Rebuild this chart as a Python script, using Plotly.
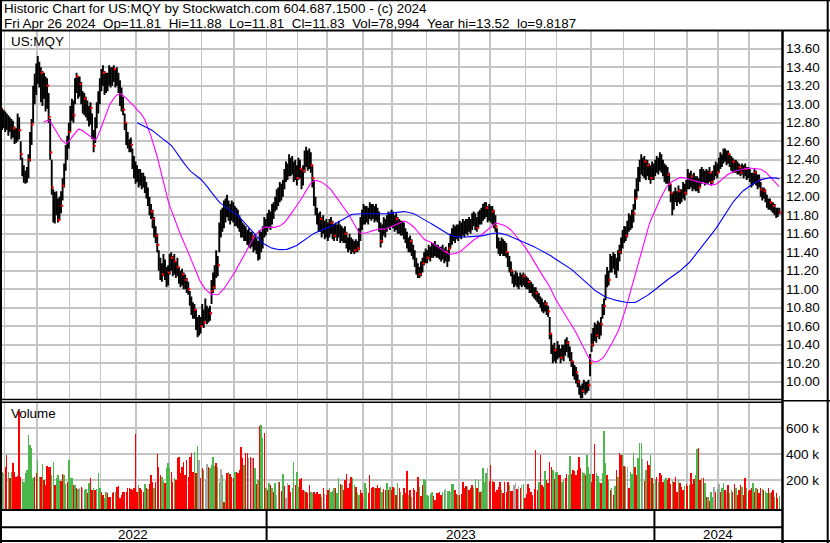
import pandas as pd
import plotly.graph_objects as go

W, H = 830, 543

# ---------------- text ----------------
title_line = "Historic Chart for US:MQY by Stockwatch.com 604.687.1500 - (c) 2024"
quote_fields = ["Fri Apr 26 2024", "Op=11.81", "Hi=11.88", "Lo=11.81", "Cl=11.83",
                "Vol=78,994", "Year hi=13.52", "lo=9.8187"]
symbol = "US:MQY"
volume_title = "Volume"

# ---------------- trading calendar ----------------
start_date = "2022-04-26"
end_date = "2024-04-26"
market_holidays = ["2022-05-30", "2022-06-20", "2022-07-04", "2022-09-05", "2022-11-24", "2022-12-26",
                   "2023-01-02", "2023-01-16", "2023-02-20", "2023-04-07", "2023-05-29", "2023-06-19",
                   "2023-07-04", "2023-09-04", "2023-11-23", "2023-12-25",
                   "2024-01-01", "2024-01-15", "2024-02-19", "2024-03-29"]

# ---------------- daily prices ----------------
close = [
12.85,12.95,12.80,12.88,12.78,12.84,12.74,12.80,12.68,12.74,
12.62,12.66,12.78,12.72,12.46,12.30,12.22,12.18,12.26,12.40,
12.62,12.78,13.10,13.26,13.35,13.44,13.30,13.34,13.18,13.24,
13.12,13.20,12.86,12.48,12.10,11.80,11.98,11.92,11.75,11.86,
11.90,12.12,12.30,12.46,12.58,12.70,12.90,13.00,12.88,13.20,
13.30,13.16,13.22,13.10,12.98,13.06,12.94,12.90,12.84,12.96,
12.70,12.55,12.78,12.96,13.05,13.22,13.30,13.34,13.16,13.28,
13.22,13.36,13.26,13.32,13.38,13.24,13.30,13.20,13.12,13.04,
12.94,12.80,12.66,12.58,12.55,12.56,12.40,12.34,12.24,12.28,
12.18,12.22,12.14,12.18,12.12,12.06,11.96,11.86,11.84,11.76,
11.62,11.58,11.48,11.30,11.22,11.16,11.28,11.20,11.06,11.18,
11.30,11.34,11.24,11.30,11.20,11.24,11.14,11.08,11.16,11.06,
11.10,11.02,11.00,10.88,10.80,10.74,10.78,10.62,10.56,10.66,
10.60,10.72,10.64,10.76,10.70,10.72,10.74,10.98,11.02,11.18,
11.30,11.26,11.62,11.78,11.70,11.88,11.82,11.94,11.86,11.78,
11.90,11.84,11.76,11.82,11.74,11.70,11.66,11.64,11.60,11.62,
11.54,11.58,11.50,11.56,11.48,11.52,11.46,11.40,11.58,11.50,
11.62,11.70,11.64,11.74,11.80,11.72,11.84,11.88,11.92,12.02,
11.96,12.08,12.04,12.12,12.22,12.30,12.26,12.38,12.30,12.34,
12.24,12.28,12.20,12.36,12.30,12.14,12.28,12.40,12.46,12.36,
12.44,12.34,12.20,11.96,11.86,11.78,11.70,11.76,11.64,11.70,
11.62,11.68,11.60,11.66,11.72,11.62,11.58,11.66,11.60,11.64,
11.58,11.62,11.56,11.60,11.50,11.46,11.52,11.44,11.48,11.42,
11.46,11.44,11.56,11.70,11.78,11.86,11.76,11.84,11.80,11.88,
11.82,11.86,11.80,11.84,11.78,11.70,11.52,11.62,11.70,11.66,
11.74,11.78,11.72,11.80,11.74,11.70,11.76,11.66,11.70,11.64,
11.68,11.62,11.56,11.50,11.46,11.52,11.42,11.38,11.30,11.22,
11.18,11.16,11.24,11.28,11.32,11.38,11.34,11.42,11.38,11.44,
11.40,11.44,11.38,11.42,11.36,11.40,11.38,11.34,11.40,11.36,
11.44,11.52,11.58,11.62,11.56,11.64,11.60,11.66,11.62,11.68,
11.64,11.70,11.66,11.72,11.68,11.74,11.78,11.72,11.66,11.76,
11.80,11.78,11.86,11.82,11.88,11.78,11.86,11.80,11.84,11.74,
11.68,11.50,11.46,11.42,11.50,11.44,11.46,11.40,11.32,11.26,
11.20,11.12,11.08,11.14,11.10,11.06,11.12,11.08,11.14,11.10,
11.06,11.08,11.00,11.04,10.98,10.94,10.96,10.92,10.88,10.86,
10.82,10.80,10.84,10.78,10.76,10.52,10.36,10.26,10.34,10.28,
10.36,10.32,10.26,10.34,10.30,10.38,10.42,10.34,10.28,10.22,
10.14,10.08,10.10,10.00,9.92,9.86,9.90,9.96,9.92,9.94,
9.96,10.20,10.40,10.48,10.56,10.50,10.58,10.54,10.62,10.76,
10.82,11.06,11.14,11.10,11.30,11.26,11.34,11.28,11.22,11.36,
11.40,11.48,11.56,11.62,11.58,11.66,11.74,11.70,11.78,11.82,
11.98,12.10,12.24,12.30,12.36,12.32,12.38,12.26,12.34,12.30,
12.20,12.30,12.26,12.34,12.38,12.32,12.40,12.36,12.30,12.24,
12.20,12.24,12.14,12.04,11.90,11.98,12.04,11.96,12.06,11.98,
12.02,12.10,12.04,12.12,12.20,12.16,12.22,12.14,12.18,12.12,
12.16,12.10,12.20,12.26,12.22,12.18,12.24,12.20,12.26,12.16,
12.22,12.28,12.32,12.26,12.36,12.42,12.38,12.46,12.44,12.40,
12.46,12.38,12.34,12.38,12.30,12.36,12.28,12.32,12.26,12.30,
12.26,12.30,12.24,12.28,12.22,12.16,12.20,12.26,12.18,12.14,
12.18,12.08,12.02,12.06,11.98,11.94,11.90,11.94,11.88,11.90,
11.86,11.80,11.84,11.83]

high = [
12.98,13.02,12.96,12.94,12.92,12.90,12.88,12.86,12.84,12.82,
12.76,12.74,12.90,12.86,12.60,12.42,12.34,12.28,12.32,12.46,
12.70,12.84,13.20,13.33,13.44,13.52,13.46,13.40,13.36,13.34,
13.30,13.28,13.12,12.84,12.40,12.08,12.05,12.06,11.98,12.00,
12.06,12.20,12.36,12.56,12.66,12.80,12.98,13.06,13.04,13.28,
13.34,13.30,13.30,13.24,13.14,13.12,13.08,13.04,12.98,13.02,
12.90,12.72,12.86,13.02,13.14,13.28,13.38,13.42,13.36,13.34,
13.34,13.42,13.40,13.40,13.42,13.38,13.40,13.34,13.26,13.18,
13.08,12.90,12.80,12.70,12.62,12.64,12.52,12.44,12.38,12.34,
12.30,12.30,12.26,12.26,12.22,12.16,12.10,12.00,11.92,11.86,
11.78,11.68,11.60,11.42,11.34,11.28,11.38,11.32,11.24,11.26,
11.38,11.40,11.36,11.38,11.30,11.34,11.24,11.20,11.22,11.18,
11.16,11.12,11.08,10.98,10.92,10.86,10.84,10.78,10.70,10.72,
10.70,10.84,10.78,10.90,10.82,10.80,10.82,11.10,11.18,11.26,
11.42,11.36,11.72,11.86,11.88,11.96,11.98,12.02,11.96,11.92,
11.96,11.94,11.90,11.88,11.86,11.80,11.76,11.72,11.70,11.68,
11.64,11.66,11.62,11.62,11.58,11.60,11.56,11.52,11.64,11.62,
11.68,11.78,11.76,11.82,11.86,11.84,11.92,11.94,12.00,12.08,
12.10,12.16,12.14,12.18,12.30,12.38,12.36,12.46,12.42,12.44,
12.38,12.40,12.34,12.42,12.40,12.30,12.34,12.50,12.54,12.50,
12.52,12.48,12.34,12.18,12.00,11.88,11.82,11.84,11.78,11.80,
11.74,11.76,11.72,11.76,11.78,11.74,11.70,11.72,11.70,11.74,
11.70,11.68,11.66,11.68,11.62,11.56,11.60,11.56,11.54,11.52,
11.54,11.52,11.66,11.78,11.86,11.92,11.90,11.90,11.88,11.94,
11.92,11.92,11.90,11.92,11.88,11.84,11.72,11.70,11.78,11.76,
11.80,11.84,11.82,11.86,11.84,11.80,11.82,11.78,11.76,11.74,
11.74,11.72,11.66,11.62,11.56,11.58,11.54,11.48,11.42,11.34,
11.28,11.24,11.30,11.34,11.40,11.44,11.42,11.48,11.46,11.50,
11.50,11.52,11.48,11.48,11.46,11.46,11.48,11.44,11.46,11.42,
11.50,11.60,11.66,11.70,11.68,11.70,11.70,11.74,11.72,11.76,
11.74,11.76,11.76,11.78,11.76,11.82,11.84,11.82,11.78,11.84,
11.86,11.88,11.92,11.94,11.94,11.90,11.92,11.90,11.90,11.86,
11.80,11.66,11.56,11.52,11.56,11.54,11.52,11.50,11.40,11.36,
11.30,11.20,11.16,11.20,11.18,11.14,11.18,11.16,11.18,11.16,
11.14,11.12,11.10,11.08,11.06,11.02,11.02,10.98,10.96,10.92,
10.90,10.86,10.88,10.86,10.82,10.70,10.52,10.40,10.42,10.36,
10.44,10.40,10.36,10.40,10.40,10.46,10.48,10.44,10.38,10.32,
10.22,10.18,10.16,10.08,10.02,9.96,9.98,10.02,10.00,10.00,
10.02,10.30,10.52,10.58,10.64,10.62,10.66,10.64,10.70,10.84,
10.90,11.16,11.24,11.20,11.38,11.36,11.40,11.38,11.34,11.42,
11.48,11.56,11.64,11.68,11.68,11.74,11.82,11.80,11.86,11.92,
12.08,12.20,12.32,12.40,12.46,12.42,12.44,12.40,12.40,12.36,
12.34,12.38,12.36,12.40,12.44,12.42,12.48,12.46,12.40,12.36,
12.34,12.32,12.26,12.14,12.04,12.06,12.10,12.06,12.12,12.08,
12.08,12.16,12.14,12.18,12.30,12.26,12.28,12.24,12.26,12.22,
12.22,12.20,12.30,12.32,12.30,12.28,12.30,12.28,12.32,12.26,
12.28,12.34,12.38,12.36,12.42,12.48,12.46,12.52,12.52,12.50,
12.50,12.46,12.44,12.42,12.40,12.40,12.38,12.36,12.34,12.36,
12.34,12.36,12.32,12.32,12.30,12.26,12.26,12.30,12.28,12.24,
12.24,12.16,12.10,12.10,12.08,12.02,11.98,11.98,11.94,11.94,
11.92,11.88,11.88,11.88]

low = [
12.70,12.78,12.72,12.74,12.70,12.72,12.66,12.70,12.62,12.64,
12.57,12.58,12.60,12.62,12.40,12.22,12.15,12.14,12.15,12.20,
12.38,12.56,12.80,13.00,13.10,13.22,13.18,13.02,12.98,13.06,
12.92,12.95,12.80,12.40,12.02,11.72,11.71,11.80,11.72,11.74,
11.82,11.96,12.10,12.28,12.40,12.52,12.70,12.82,12.80,13.00,
13.12,13.06,13.08,13.00,12.90,12.88,12.86,12.82,12.76,12.78,
12.62,12.48,12.58,12.74,12.90,13.00,13.14,13.20,13.10,13.12,
13.14,13.20,13.18,13.20,13.24,13.18,13.20,13.12,12.98,12.92,
12.88,12.72,12.56,12.52,12.48,12.48,12.30,12.20,12.14,12.16,
12.10,12.12,12.08,12.10,12.04,11.98,11.90,11.80,11.76,11.66,
11.56,11.50,11.40,11.20,11.10,11.08,11.14,11.10,11.02,11.04,
11.16,11.20,11.14,11.16,11.12,11.14,11.06,11.02,11.04,11.00,
11.00,10.96,10.94,10.82,10.72,10.68,10.68,10.56,10.48,10.50,
10.52,10.60,10.58,10.66,10.62,10.64,10.66,10.84,10.96,11.00,
11.12,11.14,11.40,11.56,11.62,11.66,11.72,11.78,11.74,11.70,
11.74,11.72,11.68,11.68,11.66,11.62,11.56,11.56,11.52,11.52,
11.48,11.46,11.44,11.46,11.40,11.42,11.38,11.31,11.32,11.40,
11.44,11.56,11.58,11.62,11.66,11.64,11.70,11.76,11.84,11.86,
11.90,11.94,11.96,12.00,12.08,12.16,12.18,12.22,12.22,12.24,
12.16,12.18,12.12,12.18,12.20,12.08,12.12,12.26,12.32,12.28,
12.30,12.26,12.10,11.90,11.80,11.70,11.62,11.62,11.56,11.60,
11.54,11.56,11.52,11.56,11.60,11.54,11.52,11.56,11.52,11.56,
11.50,11.52,11.50,11.50,11.44,11.40,11.42,11.38,11.40,11.38,
11.40,11.40,11.42,11.52,11.64,11.70,11.70,11.72,11.70,11.76,
11.74,11.76,11.72,11.74,11.72,11.62,11.45,11.50,11.58,11.56,
11.62,11.66,11.64,11.68,11.66,11.62,11.64,11.60,11.60,11.58,
11.58,11.54,11.50,11.44,11.40,11.40,11.36,11.32,11.24,11.16,
11.12,11.12,11.14,11.18,11.26,11.28,11.28,11.32,11.30,11.34,
11.34,11.36,11.34,11.34,11.32,11.30,11.32,11.28,11.30,11.24,
11.30,11.44,11.48,11.52,11.50,11.54,11.52,11.56,11.54,11.58,
11.56,11.60,11.58,11.62,11.60,11.64,11.68,11.64,11.62,11.66,
11.70,11.70,11.74,11.76,11.78,11.72,11.74,11.72,11.70,11.66,
11.62,11.44,11.38,11.36,11.38,11.36,11.36,11.34,11.24,11.18,
11.14,11.06,11.02,11.04,11.02,11.00,11.04,11.02,11.04,11.02,
11.00,11.00,10.96,10.96,10.92,10.90,10.88,10.86,10.84,10.80,
10.76,10.74,10.76,10.72,10.70,10.46,10.30,10.20,10.22,10.20,
10.24,10.26,10.20,10.24,10.22,10.28,10.32,10.26,10.22,10.16,
10.06,10.02,9.98,9.94,9.86,9.82,9.82,9.88,9.86,9.88,
9.90,10.06,10.32,10.38,10.44,10.42,10.48,10.46,10.50,10.68,
10.72,10.88,11.02,11.04,11.18,11.18,11.22,11.16,11.12,11.20,
11.30,11.38,11.44,11.50,11.52,11.56,11.62,11.64,11.66,11.72,
11.86,11.98,12.06,12.16,12.24,12.22,12.20,12.18,12.22,12.18,
12.14,12.18,12.18,12.22,12.26,12.24,12.28,12.26,12.22,12.16,
12.14,12.14,12.06,11.94,11.80,11.86,11.94,11.90,11.94,11.92,
11.94,11.98,11.96,12.02,12.08,12.08,12.10,12.06,12.08,12.06,
12.06,12.04,12.10,12.14,12.16,12.12,12.14,12.14,12.16,12.12,
12.14,12.18,12.22,12.20,12.26,12.30,12.32,12.36,12.38,12.34,
12.36,12.32,12.28,12.26,12.26,12.26,12.24,12.24,12.22,12.24,
12.20,12.22,12.18,12.20,12.16,12.10,12.12,12.14,12.12,12.08,
12.10,12.00,11.96,11.98,11.94,11.88,11.86,11.86,11.84,11.82,
11.80,11.77,11.78,11.81]

# ---------------- daily volume, thousands of shares ----------------
volume_k = [
185,262,262,255,305,395,267,220,262,330,
267,228,235,733,228,195,190,254,280,549,
472,446,215,228,254,356,228,228,326,200,
164,313,305,305,241,344,164,215,241,203,
195,249,241,169,185,356,215,220,164,164,
144,133,138,151,138,126,131,100,177,215,
126,144,126,133,254,138,113,87,62,113,
100,74,74,100,113,113,151,159,62,87,
113,108,113,138,144,133,126,138,554,113,
164,138,126,113,169,138,133,169,241,185,
138,185,400,305,241,228,195,177,292,331,
297,267,190,215,200,369,380,254,305,344,
241,356,228,380,408,267,420,254,464,356,
220,292,280,203,323,305,292,318,382,310,
331,300,190,287,241,36,195,254,262,249,
228,215,262,267,259,280,459,369,318,408,
408,369,380,369,374,298,169,200,620,626,
528,561,138,126,177,164,144,113,177,87,
185,185,120,246,159,67,177,164,113,138,
344,164,267,150,210,215,126,118,113,100,
164,113,100,108,95,108,92,92,74,138,
92,87,126,138,108,120,138,138,100,220,
169,164,126,203,246,138,180,228,215,164,
151,100,87,126,100,62,177,140,100,241,
138,151,138,144,164,138,151,113,130,126,
177,126,151,126,151,138,87,177,138,110,
87,138,100,272,87,126,74,138,126,113,
228,151,82,164,208,203,87,79,95,108,
79,49,100,100,108,87,113,126,131,115,
118,113,169,169,126,92,87,87,92,185,
140,159,149,123,138,164,144,210,138,203,
108,120,292,190,254,297,195,318,195,190,
113,126,150,185,126,100,185,113,185,164,
121,118,164,177,133,159,144,164,169,67,
95,169,138,110,87,133,433,126,185,395,
164,151,272,203,180,344,305,280,210,267,
267,241,241,190,203,220,246,241,387,249,
280,272,241,280,377,292,267,254,241,395,
305,246,190,249,477,254,230,190,177,254,
582,331,241,203,126,138,87,160,280,228,
408,395,400,310,305,305,138,267,250,408,
300,241,374,485,485,364,195,280,349,318,
395,215,177,210,228,185,254,241,185,200,
220,203,215,169,195,185,228,113,203,177,
150,126,156,169,156,164,254,169,210,241,
441,446,203,220,215,177,74,72,41,113,
74,151,113,131,169,113,138,177,126,113,
164,105,125,113,169,138,87,126,164,151,
87,215,138,120,126,138,177,113,138,133,
100,138,133,126,115,100,138,100,108,126,
74,100,62,79]

# day direction: u = up, d = down, n = unchanged
vol_dir = list("".join([
"nuunddudud", "ddddduuuuu", "uuudduudud", "dddduuduuu", "dduuduuudu",
"dundnuudud", "duduuudduu", "dddddudddd", "dddddddddd", "udddududdd",
"udddduuduu", "uddudddddd", "ddddddudun", "ddunnduuuu", "duunududud",
"ddudddddud", "dndndududu", "ududududun", "uddudnnddu", "uduudddudd",
"duudddddud", "ndduuuuduu", "dudddddduu", "duuddnuudd", "dduddduudd",
"ududdududu", "udddudud",
"dddudduuuu", "uudddddduu", "nuunuuddud", "dddduddduu", "duduuuundd",
"dddddduddd", "duddnndndn", "uddddddddd", "uddduddddu", "duudduuddu",
"uddddddduu", "duuuddduuu", "duuudududu", "duddudundu", "uudduuundu",
"dduduududd", "duuddduddd", "uddduddudd", "duuddududu", "duundunduu",
"dnduuddudd", "duddudddud", "uddduduudu", "dduddu"]))

price_ticks = [10.0, 10.2, 10.4, 10.6, 10.8, 11.0, 11.2, 11.4, 11.6, 11.8,
               12.0, 12.2, 12.4, 12.6, 12.8, 13.0, 13.2, 13.4, 13.6]
volume_ticks = [200000, 400000, 600000]
volume_ticktext = ["200 k", "400 k", "600 k"]
ma_short, ma_long = 30, 90

# ---------------- derived ----------------
n = len(close)
dates = pd.bdate_range(start_date, end_date, freq="C", holidays=market_holidays)[:n]
idx = list(range(n))
month_edges = [i - 0.5 for i in range(1, n) if dates[i].month != dates[i - 1].month]
year_edges = [i - 0.5 for i in range(1, n) if dates[i].year != dates[i - 1].year]
years = [str(dates[0].year)] + [str(dates[int(e + 0.5)].year) for e in year_edges]

s = pd.Series(close)
ma1 = s.rolling(ma_short).mean()
ma2 = s.rolling(ma_long).mean()
volume = [v * 1000 for v in volume_k]

# close tick of a bar stays visible only where the next bar (drawn after it) does not cover it
tick_half = 0.02
tick_idx = [i for i in idx if i == n - 1 or close[i] >= high[i + 1] - tick_half or close[i] <= low[i + 1] + tick_half]

# ---------------- geometry (pixels) ----------------
bar_dx = 1.5513          # px per trading day
bar_x0 = -1.0            # px of bar 0
plot_right = 782.0
def PX(x): return x / W
def PY(y): return 1 - y / H
xr = [(0 - bar_x0) / bar_dx, (plot_right - bar_x0) / bar_dx]
price_top, price_bot = 30.2, 400.2
vol_top, vol_bot = 402.2, 509.5
vol_zero_px, vol_px_per = 506.3, 0.13 / 1000.0
vol_range = [-(vol_bot - vol_zero_px) / vol_px_per, (vol_zero_px - vol_top) / vol_px_per]

FONT = "Liberation Sans, Arial, sans-serif"
GRID = "#c4c4c4"
col_map = {"u": "#4cb84c", "d": "#ff0000", "n": "#a8a8a8"}

fig = go.Figure()

bx, by = [], []
for i in idx:
    bx += [i, i, None]
    by += [low[i], high[i], None]
fig.add_trace(go.Scatter(x=bx, y=by, mode="lines", line=dict(color="black", width=1.9),
                         xaxis="x", yaxis="y", hoverinfo="skip"))
fig.add_trace(go.Scatter(x=[i + 0.6 for i in tick_idx], y=[close[i] for i in tick_idx], mode="markers",
                         marker=dict(symbol="square", size=2.3, color="#ff0000", line=dict(width=0)),
                         xaxis="x", yaxis="y", hoverinfo="skip"))
fig.add_trace(go.Scatter(x=idx, y=ma1, mode="lines", line=dict(color="#ff00ff", width=1.1),
                         xaxis="x", yaxis="y"))
fig.add_trace(go.Scatter(x=idx, y=ma2, mode="lines", line=dict(color="#0000ff", width=1.1),
                         xaxis="x", yaxis="y"))

fig.add_trace(go.Bar(x=idx, y=[v - vol_range[0] for v in volume], base=vol_range[0], width=0.9,
                     marker=dict(color=[col_map[d] for d in vol_dir], line=dict(width=0)),
                     xaxis="x2", yaxis="y2"))

axis_common = dict(range=xr, tickmode="array", tickvals=month_edges, showticklabels=False, ticks="",
                   showgrid=True, gridcolor=GRID, gridwidth=1.6, zeroline=False, showline=False,
                   domain=[0, PX(plot_right)], layer="below traces")
fig.update_layout(
    width=W, height=H, margin=dict(l=0, r=0, t=0, b=0, pad=0),
    paper_bgcolor="white", plot_bgcolor="white", showlegend=False, hovermode=False,
    bargap=0, font=dict(family=FONT, size=13, color="black"),
    xaxis=dict(anchor="y", **axis_common),
    xaxis2=dict(anchor="y2", **axis_common),
    yaxis=dict(domain=[PY(price_bot), PY(price_top)], range=[9.8, 13.8], side="right",
               tickmode="array", tickvals=price_ticks, ticktext=[f"{t:.2f}" for t in price_ticks],
               ticks="", showgrid=True, gridcolor=GRID, gridwidth=1.6, zeroline=False, anchor="x",
               tickfont=dict(size=13.5), ticklabelstandoff=3, layer="below traces"),
    yaxis2=dict(domain=[PY(vol_bot), PY(vol_top)], range=vol_range, side="right",
                tickmode="array", tickvals=volume_ticks, ticktext=volume_ticktext, ticks="",
                showgrid=True, gridcolor=GRID, gridwidth=1.6, zeroline=False, anchor="x2",
                tickfont=dict(size=13.5), ticklabelstandoff=3, layer="below traces"),
)

ann = []
ann.append(dict(text=title_line, x=PX(2), y=PY(8.5), xref="paper", yref="paper",
                xanchor="left", yanchor="middle", showarrow=False, font=dict(size=13.4)))
ann.append(dict(text="\u00a0\u00a0".join(quote_fields), x=PX(2), y=PY(23.8), xref="paper", yref="paper",
                xanchor="left", yanchor="middle", showarrow=False, font=dict(size=13.4)))
ann.append(dict(text=symbol, x=PX(8.5), y=PY(41.5), xref="paper", yref="paper",
                xanchor="left", yanchor="middle", showarrow=False, font=dict(size=13.4)))
ann.append(dict(text=volume_title, x=PX(8.5), y=PY(413.3), xref="paper", yref="paper",
                xanchor="left", yanchor="middle", showarrow=False, font=dict(size=13.4)))
seg_bounds = [xr[0]] + year_edges + [xr[1]]
for k, yl in enumerate(years):
    ann.append(dict(text=yl, x=(seg_bounds[k] + seg_bounds[k + 1]) / 2, y=PY(534.5),
                    xref="x", yref="paper", xanchor="center", yanchor="middle",
                    showarrow=False, font=dict(size=13.4)))
fig.update_layout(annotations=ann)

def hline(y, x0, x1, w):
    return dict(type="line", xref="paper", yref="paper", x0=PX(x0), x1=PX(x1), y0=PY(y), y1=PY(y),
                line=dict(color="black", width=w))
def vline(x, y0, y1, w):
    return dict(type="line", xref="paper", yref="paper", x0=PX(x), x1=PX(x), y0=PY(y0), y1=PY(y1),
                line=dict(color="black", width=w))

shapes = [
    hline(0.5, 0, W, 1.5), hline(541.0, 0, W, 2),
    vline(1.0, 0, H, 2), vline(827.7, 0, H, 2),
    hline(30.5, 0, W, 2),
    hline(399.5, 0, plot_right, 1.4), hline(402.2, 0, plot_right, 1.4), hline(400.8, plot_right, W, 1.4),
    vline(782.5, 30.5, H, 2.5),
    hline(510.0, 0, plot_right, 2), hline(527.2, 0, plot_right, 2),
]
for e in year_edges:
    shapes.append(dict(type="line", xref="x", yref="paper", x0=e, x1=e, y0=PY(510), y1=PY(541),
                       line=dict(color="black", width=2)))
fig.update_layout(shapes=shapes)

fig.write_html("out.html", config={"displayModeBar": False, "staticPlot": True},
               post_script="document.body.style.margin='0px';document.body.style.padding='0px';")
